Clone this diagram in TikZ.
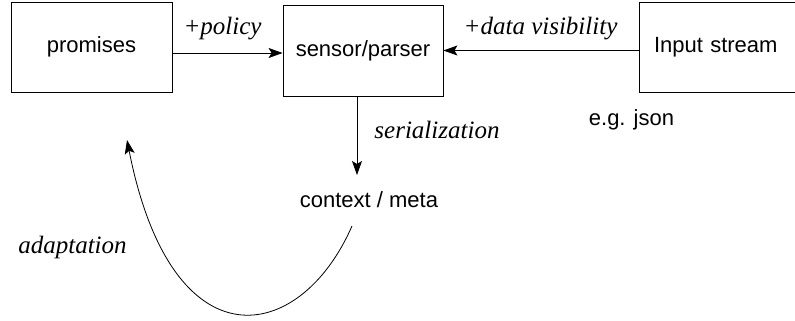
\documentclass[tikz,border=0pt]{standalone}
\usepackage{fontspec}
\setmainfont{Liberation Serif}
\setsansfont{Liberation Sans}
\usetikzlibrary{arrows.meta}
\begin{document}
\begin{tikzpicture}[x=1pt,y=-1pt,line width=0.8pt,
  box/.style={draw,rectangle,inner sep=0pt,font=\sffamily\fontsize{22}{26}\selectfont},
  plain/.style={inner sep=0pt,font=\sffamily\fontsize{22}{26}\selectfont},
  lbl/.style={inner sep=0pt,anchor=base,font=\rmfamily\itshape\fontsize{25}{30}\selectfont},
  arr/.style={-{Stealth[length=14pt,width=10pt,inset=3pt]}}]
\useasboundingbox (0,0) rectangle (795,321);
\node[box,minimum width=161pt,minimum height=90pt] (prom) at (91.5,47) {promises};
\node[box,minimum width=160pt,minimum height=91pt] (sens) at (363,50.5) {sensor/parser};
\node[box,minimum width=165pt,minimum height=90pt,text width=135pt,align=left,inner xsep=15pt] (inp) at (721.5,47) {Input stream};
\node[plain,anchor=base] (ctx) at (369,207) {context / meta};
\node[plain,anchor=base] (json) at (631.5,125) {e.g. json};
\coordinate (p1) at (prom.east |- 0,53);
\coordinate (s1) at (sens.west |- 0,53);
\coordinate (i1) at (inp.west |- 0,50.5);
\coordinate (s2) at (sens.east |- 0,50.5);
\coordinate (s3) at (357,96);
\coordinate (c1) at (357,175);
\coordinate (cs) at (352,226);
\coordinate (ce) at (127,140);
\draw[arr] (p1) -- (s1);
\draw[arr] (i1) -- (s2);
\draw[arr] (s3) -- (c1);
\draw[arr] (cs) .. controls (300,345) and (172,368) .. (ce);
\node[lbl] (lpol) at (222.5,34.5) {+policy};
\node[lbl] (ldat) at (540.5,34.5) {+data visibility};
\node[lbl] (lser) at (437,138) {serialization};
\node[lbl] (lada) at (72.5,253) {adaptation};
\end{tikzpicture}
\end{document}
